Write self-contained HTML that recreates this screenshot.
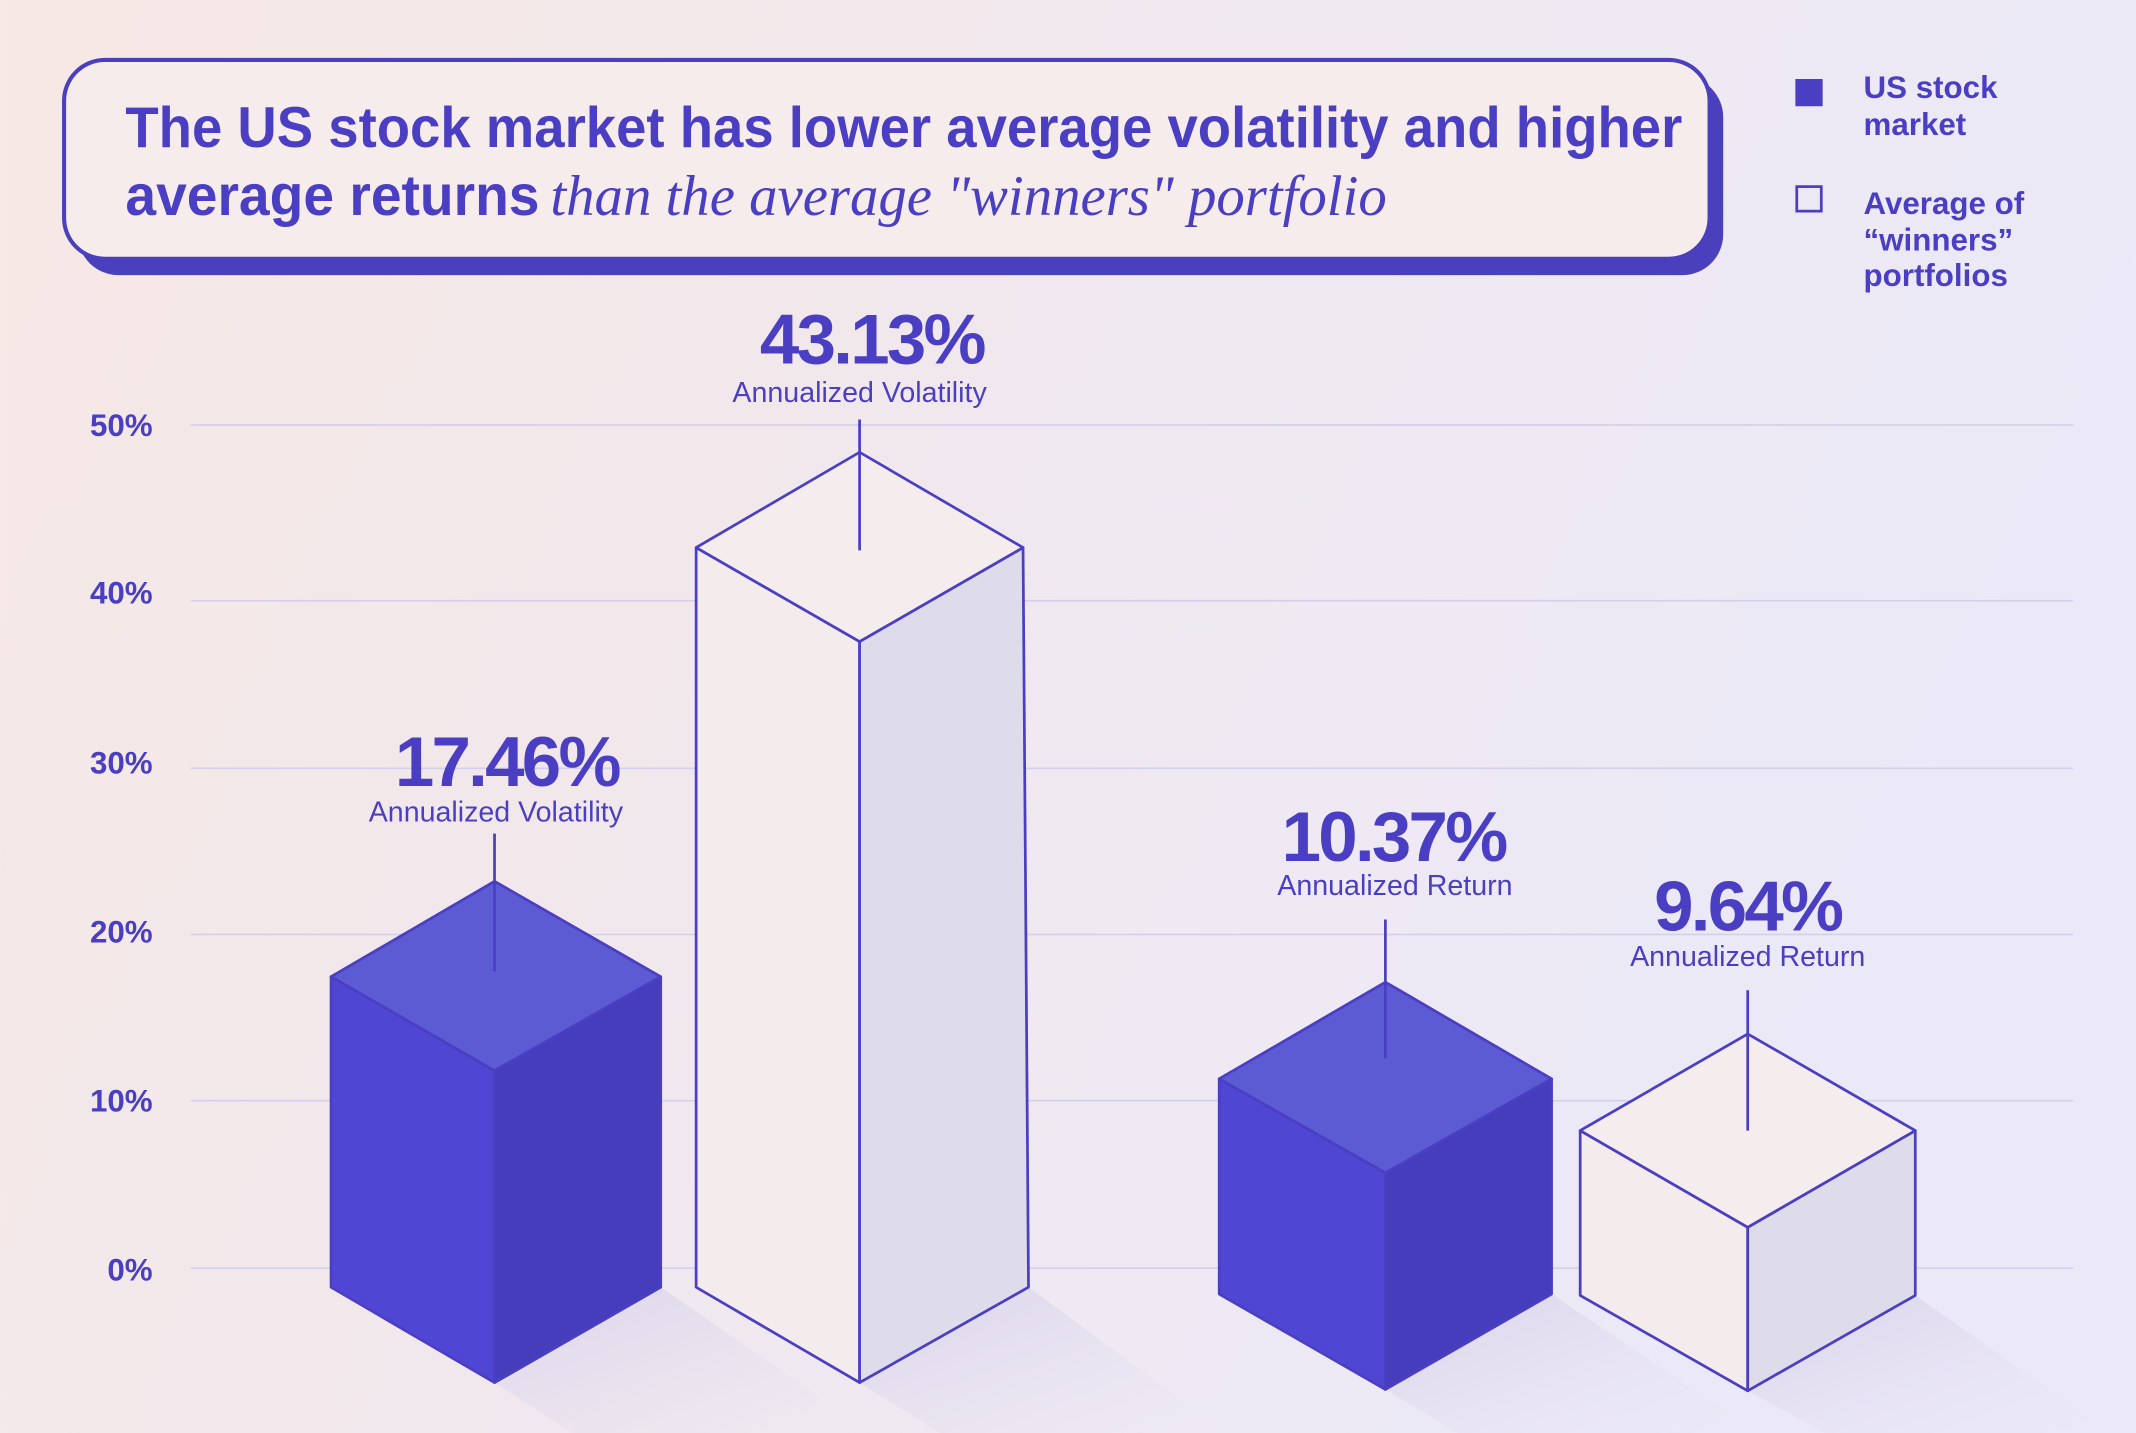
<!DOCTYPE html>
<html><head><meta charset="utf-8"><style>
html,body{margin:0;padding:0;width:2136px;height:1433px;overflow:hidden}
svg{display:block}
text{font-family:"Liberation Sans",sans-serif;fill:#4a3fc2}
.b{font-weight:bold}
</style></head><body>
<svg width="2136" height="1433" viewBox="0 0 1568 1052" xmlns="http://www.w3.org/2000/svg">
<defs>
<linearGradient id="bg" x1="0" y1="0" x2="1" y2="0.3">
<stop offset="0" stop-color="#f6e8e4"/><stop offset="1" stop-color="#ebe9f8"/></linearGradient>
<linearGradient id="sh" x1="0" y1="0" x2="1" y2="1">
<stop offset="0" stop-color="#d9d3ea"/><stop offset="1" stop-color="#e8e4f3" stop-opacity="0"/></linearGradient>
</defs>
<rect width="1568" height="1052" fill="url(#bg)"/>
<g stroke="#d4d0ea" stroke-width="1.2">
<line x1="140" y1="312" x2="1522" y2="312"/><line x1="140" y1="441" x2="1522" y2="441"/>
<line x1="140" y1="564" x2="1522" y2="564"/><line x1="140" y1="686" x2="1522" y2="686"/>
<line x1="140" y1="808" x2="1522" y2="808"/><line x1="140" y1="931" x2="1522" y2="931"/>
</g>
<g class="b" font-size="23" text-anchor="end">
<text x="112" y="320">50%</text><text x="112" y="443">40%</text><text x="112" y="568">30%</text>
<text x="112" y="692">20%</text><text x="112" y="816">10%</text><text x="112" y="940">0%</text>
</g>
<rect x="57" y="56" width="1208" height="146" rx="30" fill="#4a3fbd"/>
<rect x="47" y="44" width="1208" height="146" rx="30" fill="#f6ecec" stroke="#4a3fbd" stroke-width="3"/>
<text class="b" x="92" y="108" font-size="42" textLength="1143" lengthAdjust="spacingAndGlyphs">The US stock market has lower average volatility and higher</text>
<text x="92" y="158" font-size="42"><tspan class="b" textLength="304" lengthAdjust="spacingAndGlyphs">average returns</tspan><tspan font-family="Liberation Serif,serif" font-style="italic" x="404" textLength="614" lengthAdjust="spacingAndGlyphs">than the average "winners" portfolio</tspan></text>
<rect x="1318" y="58" width="20" height="20" fill="#4a3fc2"/>
<rect x="1319" y="137" width="18" height="18" fill="none" stroke="#4a3fc2" stroke-width="2"/>
<g class="b" font-size="23">
<text x="1368" y="72">US stock</text><text x="1368" y="99">market</text>
<text x="1368" y="157">Average of</text><text x="1368" y="184">“winners”</text><text x="1368" y="210">portfolios</text>
</g>
<g fill="url(#sh)">
<polygon points="363,1015 485,945 640,1052 420,1052"/>
<polygon points="631,1015 755,945 900,1052 690,1052"/>
<polygon points="1017,1020 1139,950 1290,1052 1070,1052"/>
<polygon points="1283,1021 1406,951 1550,1052 1340,1052"/>
</g>
<g stroke="#4a3fc2" stroke-width="2" stroke-linejoin="round">
<polygon points="243,717 363,786 363,1015 243,945" fill="#5046d4"/>
<polygon points="363,786 485,717 485,945 363,1015" fill="#463dbd"/>
<polygon points="243,717 363,647 485,717 363,786" fill="#5d5bd3"/>
<polygon points="511,402 631,471 631,1015 511,945" fill="#f4ebed"/>
<polygon points="631,471 751,402 755,945 631,1015" fill="#dedbea"/>
<polygon points="511,402 631,332 751,402 631,471" fill="#f5ecee"/>
<polygon points="895,792 1017,861 1017,1020 895,950" fill="#5046d4"/>
<polygon points="1017,861 1139,792 1139,950 1017,1020" fill="#463dbd"/>
<polygon points="895,792 1017,721 1139,792 1017,861" fill="#5d5bd3"/>
<polygon points="1160,830 1283,901 1283,1021 1160,951" fill="#f4ebed"/>
<polygon points="1283,901 1406,830 1406,951 1283,1021" fill="#dedbea"/>
<polygon points="1160,830 1283,759 1406,830 1283,901" fill="#f5ecee"/>
<line x1="363" y1="612" x2="363" y2="713"/>
<line x1="631" y1="308" x2="631" y2="404"/>
<line x1="1017" y1="675" x2="1017" y2="777"/>
<line x1="1283" y1="727" x2="1283" y2="830"/>
</g>
<g text-anchor="middle">
<text class="b" x="372" y="577" font-size="52" letter-spacing="-2">17.46%</text>
<text x="364" y="603" font-size="21">Annualized Volatility</text>
<text class="b" x="640" y="267" font-size="52" letter-spacing="-2">43.13%</text>
<text x="631" y="295" font-size="21">Annualized Volatility</text>
<text class="b" x="1023" y="632" font-size="52" letter-spacing="-2">10.37%</text>
<text x="1024" y="657" font-size="21">Annualized Return</text>
<text class="b" x="1283" y="683" font-size="52" letter-spacing="-2">9.64%</text>
<text x="1283" y="709" font-size="21">Annualized Return</text>
</g>
</svg>
</body></html>
